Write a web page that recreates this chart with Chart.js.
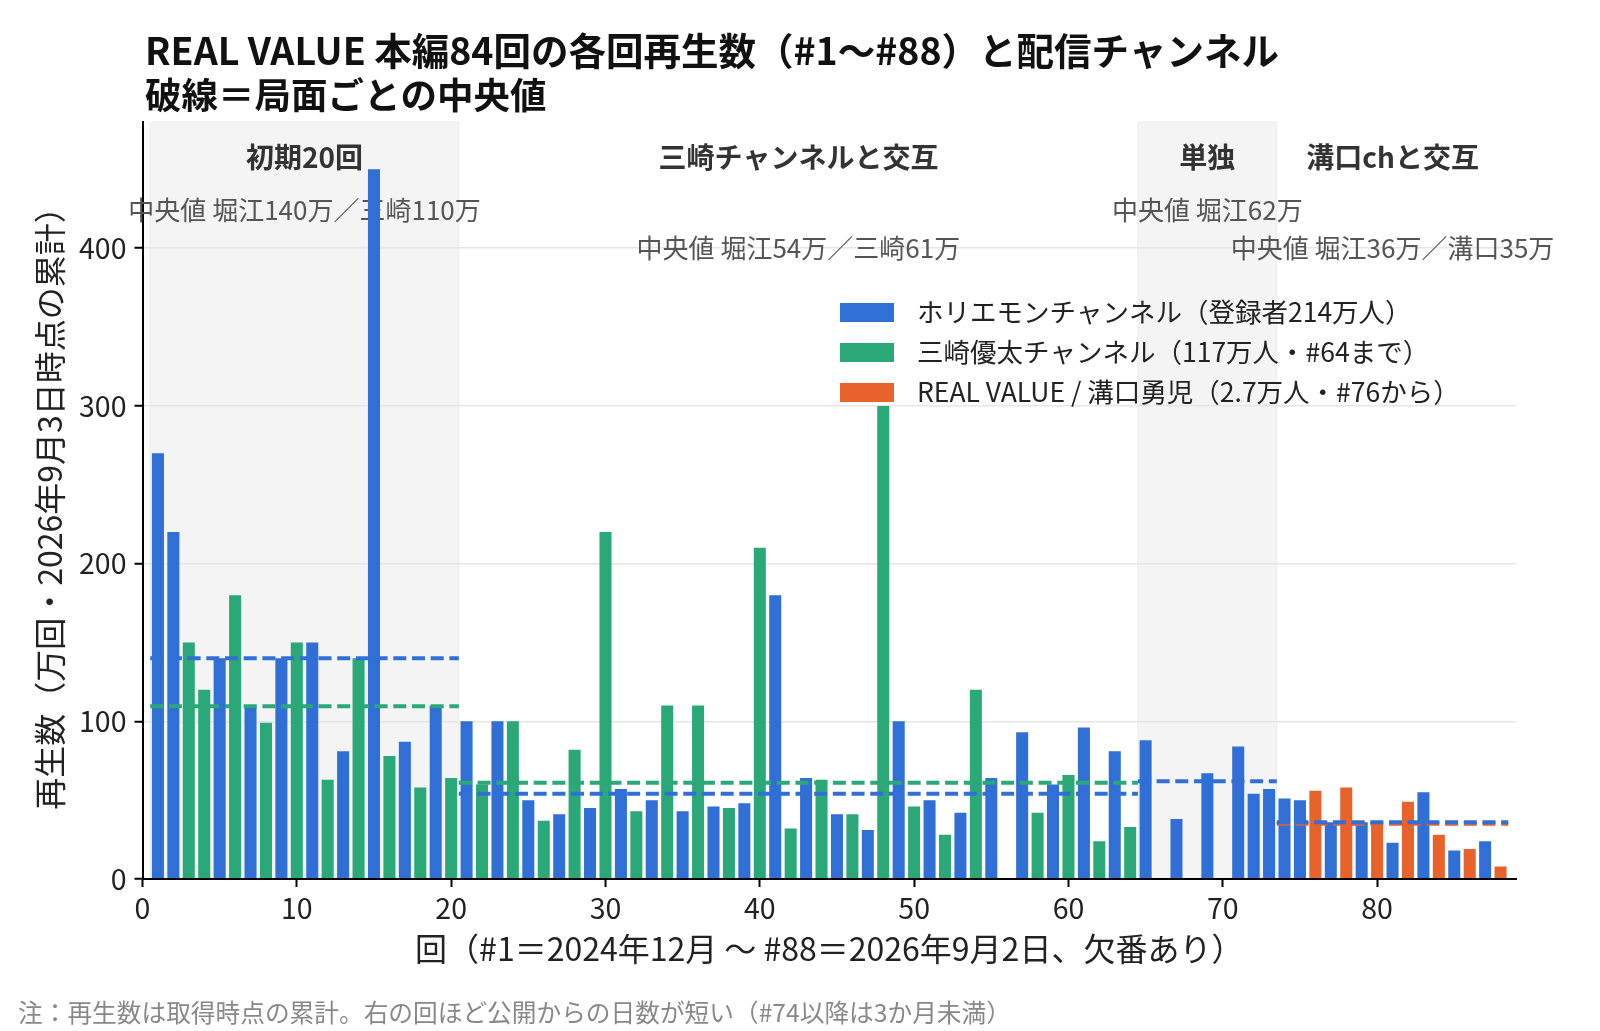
<!DOCTYPE html>
<html lang="ja">
<head>
<meta charset="utf-8">
<title>REAL VALUE 各回再生数</title>
<script src="https://cdn.jsdelivr.net/npm/chart.js@4.4.1/dist/chart.umd.min.js"></script>
<style>
  html, body { margin: 0; padding: 0; background: #fff; }
  #wrap { width: 1600px; height: 1031px; position: relative; }
</style>
</head>
<body>
<div id="wrap"><canvas id="chart"></canvas></div>
<script>
const FONT = '"Noto Sans CJK JP", "Noto Sans", sans-serif';

// 回 and 再生数（万回）by channel
const horiEpisodes = [1, 2, 5, 7, 9, 11, 13, 15, 17, 19,
  21, 23, 25, 27, 29, 31, 33, 35, 37, 39, 41, 43, 45, 47, 49, 51, 53, 55, 57, 59, 61, 63,
  65, 67, 69, 71, 72, 73, 74, 75, 77, 79, 81, 83, 85, 87];
const horiViews = [270, 220, 140, 110, 140, 150, 81, 450, 87, 110,
  100, 100, 50, 41, 45, 57, 50, 43, 46, 48, 180, 64, 41, 31, 100, 50, 42, 64, 93, 60, 96, 81,
  88, 38, 67, 84, 54, 57, 51, 50, 36, 36, 23, 55, 18, 24];

const misakiEpisodes = [3, 4, 6, 8, 10, 12, 14, 16, 18, 20,
  22, 24, 26, 28, 30, 32, 34, 36, 38, 40, 42, 44, 46, 48, 50, 52, 54, 58, 60, 62, 64];
const misakiViews = [150, 120, 180, 99, 150, 63, 140, 78, 58, 64,
  60, 100, 37, 82, 220, 43, 110, 110, 45, 210, 32, 63, 41, 300, 46, 28, 120, 42, 66, 24, 33];

const mizoEpisodes = [76, 78, 80, 82, 84, 86, 88];
const mizoViews = [56, 58, 35, 49, 28, 19, 8];

const seriesNames = [
  'ホリエモンチャンネル（登録者214万人）',
  '三崎優太チャンネル（117万人・#64まで）',
  'REAL VALUE / 溝口勇児（2.7万人・#76から）'
];
const seriesColors = ['#2F6FD6', '#2BA878', '#E8622C'];

// 局面
const phaseNames = ['初期20回', '三崎チャンネルと交互', '単独', '溝口chと交互'];
const phaseFrom = [1, 21, 65, 74];
const phaseTo = [20, 64, 73, 88];
const phaseShaded = [true, false, true, false];
const phaseNotes = ['中央値 堀江140万／三崎110万', '中央値 堀江54万／三崎61万', '中央値 堀江62万', '中央値 堀江36万／溝口35万'];
const horiMedian = [140, 54, 62, 36];
const misakiMedian = [109.5, 61, null, null];
const mizoMedian = [null, null, null, 35];

const xTicks = [0, 10, 20, 30, 40, 50, 60, 70, 80];
const yTicks = [0, 100, 200, 300, 400];

function toPoints(xs, ys) {
  return xs.map((x, i) => ({ x: x, y: ys[i] }));
}

const barSets = [[horiEpisodes, horiViews], [misakiEpisodes, misakiViews], [mizoEpisodes, mizoViews]]
  .map((pair, i) => ({
    type: 'bar',
    label: seriesNames[i],
    data: toPoints(pair[0], pair[1]),
    backgroundColor: seriesColors[i],
    grouped: false,
    barPercentage: 0.78,
    categoryPercentage: 1,
    order: 2
  }));

const lineSets = [];
[horiMedian, misakiMedian, mizoMedian].forEach((medians, c) => {
  medians.forEach((m, p) => {
    if (m === null) return;
    lineSets.push({
      type: 'line',
      label: '',
      data: [{ x: phaseFrom[p] - 0.5, y: m }, { x: phaseTo[p] + 0.5, y: m }],
      borderColor: seriesColors[c],
      borderWidth: 4,
      borderDash: [13, 5.7],
      pointRadius: 0,
      fill: false,
      order: 1
    });
  });
});

const decor = {
  id: 'decor',
  beforeDraw(chart) {
    const { ctx, chartArea, scales: { x } } = chart;
    ctx.save();
    phaseFrom.forEach((f, i) => {
      if (!phaseShaded[i]) return;
      const x0 = x.getPixelForValue(f - 0.5);
      const x1 = x.getPixelForValue(phaseTo[i] + 0.5);
      ctx.fillStyle = '#f4f4f4';
      ctx.fillRect(x0, chartArea.top, x1 - x0, chartArea.bottom - chartArea.top);
      ctx.strokeStyle = '#ececec';
      ctx.lineWidth = 1;
      ctx.strokeRect(x0, chartArea.top, x1 - x0, chartArea.bottom - chartArea.top);
    });
    ctx.restore();
  },
  beforeDatasetsDraw(chart) {
    const { ctx, chartArea, scales: { x } } = chart;
    ctx.save();
    ctx.textAlign = 'center';
    ctx.textBaseline = 'middle';
    phaseNames.forEach((name, i) => {
      const cx = x.getPixelForValue((phaseFrom[i] + phaseTo[i]) / 2);
      ctx.fillStyle = '#333';
      ctx.font = 'bold 28px ' + FONT;
      ctx.fillText(name, cx, chartArea.top + 35);
      ctx.fillStyle = '#555';
      ctx.font = '26px ' + FONT;
      ctx.fillText(phaseNotes[i], cx, chartArea.top + (i % 2 ? 126 : 88));
    });
    ctx.restore();
  },
  afterDraw(chart) {
    const { ctx } = chart;
    ctx.save();
    ctx.textAlign = 'left';
    ctx.textBaseline = 'middle';
    ctx.fillStyle = '#111';
    ctx.font = 'bold 37.5px ' + FONT;
    ctx.fillText('REAL VALUE 本編84回の各回再生数（#1〜#88）と配信チャンネル', 145, 51);
    ctx.font = 'bold 36.5px ' + FONT;
    ctx.fillText('破線＝局面ごとの中央値', 145, 95);

    ctx.fillStyle = '#888';
    ctx.font = '24.7px ' + FONT;
    ctx.fillText('注：再生数は取得時点の累計。右の回ほど公開からの日数が短い（#74以降は3か月未満）', 18, 1013);

    // legend
    ctx.font = '26.5px ' + FONT;
    chart.data.datasets.slice(0, 3).forEach((ds, i) => {
      const cy = 312 + i * 40;
      ctx.fillStyle = ds.backgroundColor;
      ctx.fillRect(840, cy - 9, 54, 19);
      ctx.fillStyle = '#222';
      ctx.fillText(ds.label, 917, cy);
    });
    ctx.restore();
  }
};

new Chart(document.getElementById('chart'), {
  type: 'bar',
  data: { datasets: barSets.concat(lineSets) },
  options: {
    responsive: true,
    maintainAspectRatio: false,
    animation: false,
    layout: { padding: { top: 122, right: 84, bottom: 0, left: 0 } },
    plugins: {
      legend: { display: false },
      tooltip: { enabled: false },
      title: { display: false }
    },
    scales: {
      x: {
        type: 'linear',
        min: 0,
        max: 89,
        offset: false,
        afterBuildTicks(scale) { scale.ticks = xTicks.map(v => ({ value: v })); },
        ticks: { color: '#222', font: { family: FONT, size: 28.5 }, padding: 4, maxRotation: 0 },
        grid: { offset: false, drawOnChartArea: false, tickLength: 8, tickColor: '#000', tickWidth: 2 },
        border: { color: '#000', width: 2, z: 1 },
        title: {
          display: true,
          text: '回（#1＝2024年12月 〜 #88＝2026年9月2日、欠番あり）',
          color: '#222',
          font: { family: FONT, size: 32 },
          padding: { top: 0, bottom: 63 }
        },
        afterFit(scale) { scale.height = 152; }
      },
      y: {
        min: 0,
        max: 480,
        afterBuildTicks(scale) { scale.ticks = yTicks.map(v => ({ value: v })); },
        ticks: { color: '#222', font: { family: FONT, size: 28.5 }, padding: 8 },
        grid: { offset: false, color: '#e6e6e6', lineWidth: 1.5, tickLength: 8, tickColor: '#000', tickWidth: 2 },
        border: { color: '#000', width: 2 },
        title: {
          display: true,
          text: '再生数（万回・2026年9月3日時点の累計）',
          color: '#222',
          font: { family: FONT, size: 32 },
          padding: { top: 31, bottom: 0 }
        },
        afterFit(scale) { scale.width = 142.5; }
      }
    }
  },
  plugins: [decor]
});
</script>
</body>
</html>
